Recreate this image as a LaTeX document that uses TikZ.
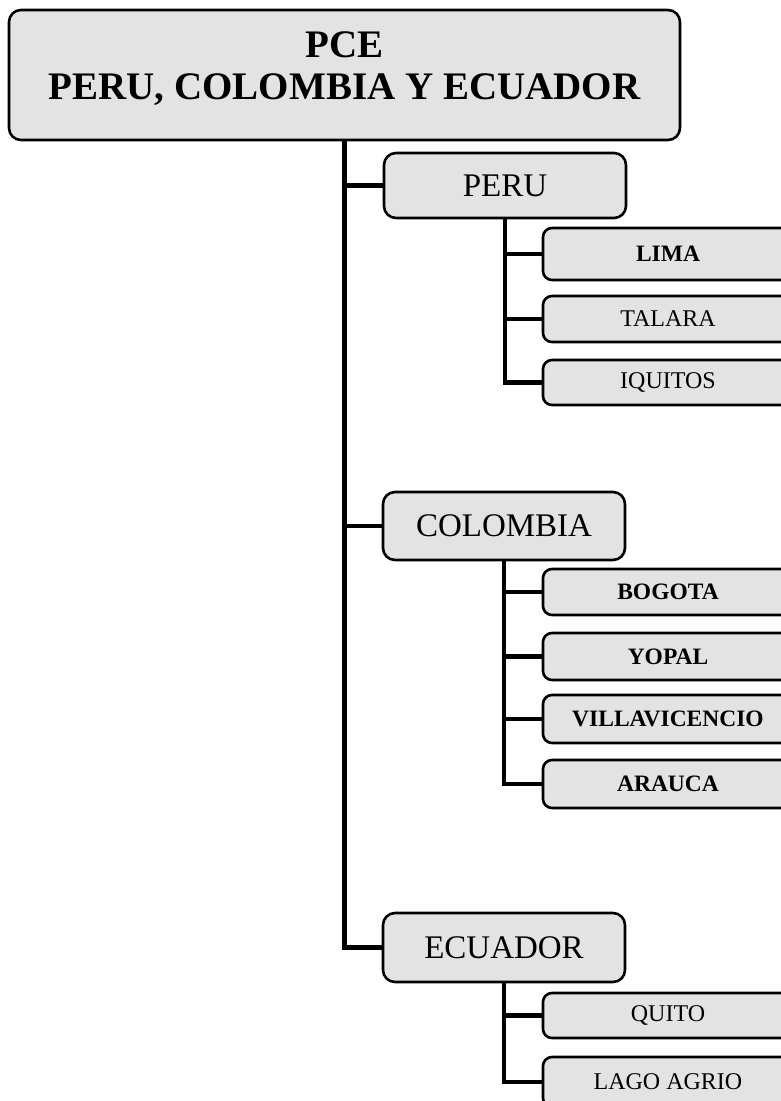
\documentclass[tikz,border=0pt]{standalone}
\usepackage{fontspec}
\setmainfont{Liberation Serif}
\begin{document}
\begin{tikzpicture}[x=1pt,y=-1pt,
  box/.style={draw=black,line width=2.6pt,rounded corners=12pt,fill=gray!22,inner sep=0pt,align=center},
  topbox/.style={box,minimum width=671pt,minimum height=130pt,font=\fontsize{39}{42}\selectfont\bfseries},
  midbox/.style={box,minimum width=242pt,font=\fontsize{33}{36}\selectfont},
  leafbox/.style={box,minimum width=250pt,rounded corners=9pt,font=\fontsize{24}{28}\selectfont},
  leafb/.style={leafbox,font=\fontsize{23.5}{28}\selectfont\bfseries},
  link/.style={line width=4.5pt,line cap=rect}]
\useasboundingbox (0,0) rectangle (781,1101);
\clip (0,0) rectangle (781,1101);
\fill[white] (0,0) rectangle (781,1101);

\node[topbox] (top) at (344.5,75) {PCE\\PERU, COLOMBIA Y ECUADOR\rule[-18pt]{0pt}{18pt}};

\node[midbox,minimum height=65pt] (peru) at (505,185.5) {PERU};
\node[midbox,minimum height=68pt] (col) at (504,526) {COLOMBIA};
\node[midbox,minimum height=69pt] (ecu) at (504,947.5) {ECUADOR};

\node[leafb,minimum height=52pt] (lima) at (668,254) {LIMA};
\node[leafbox,minimum height=46pt] (talara) at (668,319) {TALARA};
\node[leafbox,minimum height=45pt] (iquitos) at (668,382.5) {IQUITOS};

\node[leafb,minimum height=46pt] (bogota) at (668,592) {BOGOTA};
\node[leafb,minimum height=47pt] (yopal) at (668,656.5) {YOPAL};
\node[leafb,minimum height=48pt] (villa) at (668,719) {VILLAVICENCIO};
\node[leafb,minimum height=48pt] (arauca) at (668,784) {ARAUCA};

\node[leafbox,minimum height=45pt] (quito) at (668,1015.5) {QUITO};
\node[leafbox,minimum height=50pt] (lago) at (668,1082) {LAGO AGRIO};

\draw[link] (top.south) |- (peru.west);
\draw[link] (top.south) |- (col.west);
\draw[link] (top.south) |- (ecu.west);

\draw[link] (peru.south) |- (lima.west);
\draw[link] (peru.south) |- (talara.west);
\draw[link] (peru.south) |- (iquitos.west);

\draw[link] (col.south) |- (bogota.west);
\draw[link] (col.south) |- (yopal.west);
\draw[link] (col.south) |- (villa.west);
\draw[link] (col.south) |- (arauca.west);

\draw[link] (ecu.south) |- (quito.west);
\draw[link] (ecu.south) |- (lago.west);
\end{tikzpicture}
\end{document}
